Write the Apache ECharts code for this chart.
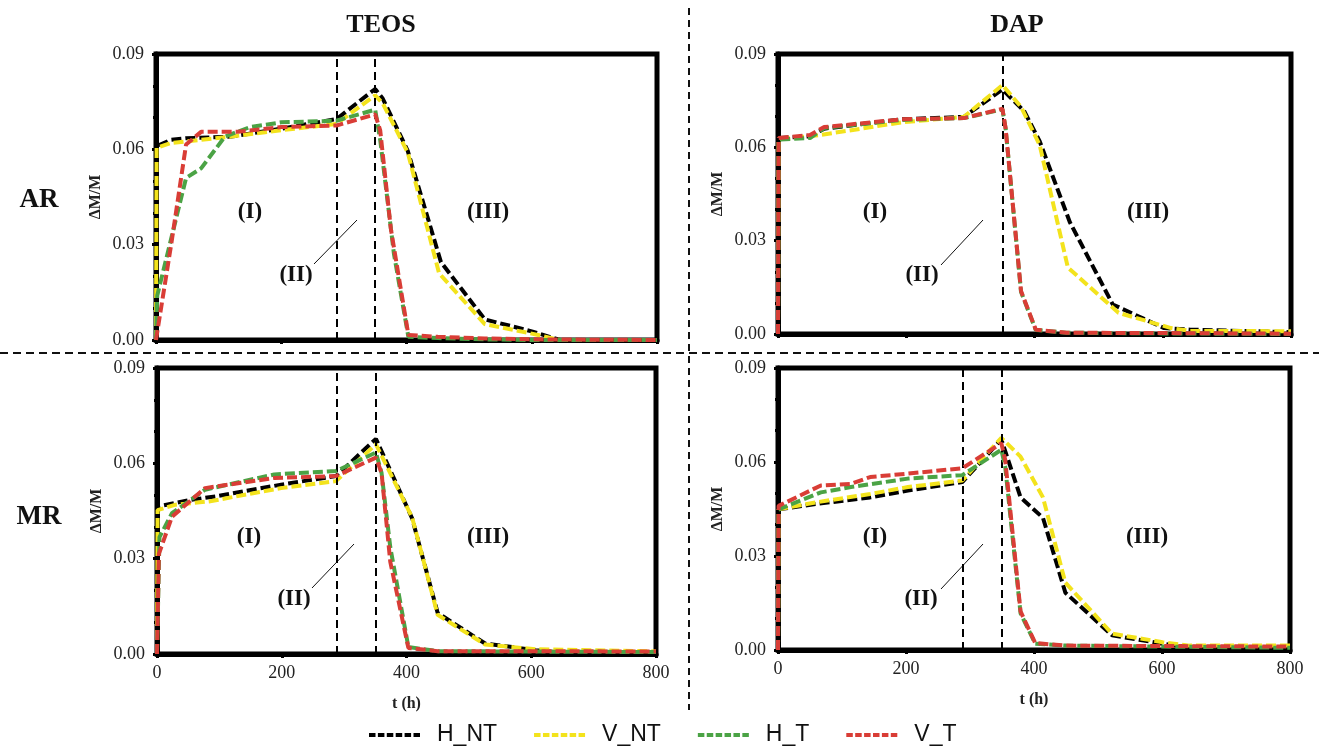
<!DOCTYPE html>
<html>
<head>
<meta charset="utf-8">
<script src="https://cdn.jsdelivr.net/npm/echarts@6/dist/echarts.min.js"></script>
<style>
html,body{margin:0;padding:0;background:#fff;}
#c{width:1319px;height:748px;}
</style>
</head>
<body>
<div id="c"></div>
<script>
// ---- data (t in h, ΔM/M) ----
const seriesNames = ['H_NT', 'V_NT', 'H_T', 'V_T'];
const colTitles = ['TEOS', 'DAP'];
const rowTitles = ['AR', 'MR'];
const xTicks = [0, 200, 400, 600, 800];
const yTicks = [0.00, 0.03, 0.06, 0.09];
const regionLabels = ['(I)', '(II)', '(III)'];

// TEOS - AR
const teosAR_H_NT = [[0,0],[1,0.061],[24,0.063],[48,0.0635],[120,0.064],[200,0.0665],[288,0.0695],[350,0.079],[362,0.076],[402,0.0595],[455,0.0245],[525,0.0065],[600,0.0027],[645,0],[800,0]];
const teosAR_V_NT = [[0,0],[1,0.0605],[24,0.062],[72,0.063],[120,0.064],[200,0.066],[288,0.068],[350,0.077],[362,0.0745],[402,0.059],[452,0.021],[525,0.005],[600,0.002],[645,0],[800,0]];
const teosAR_H_T  = [[0,0],[2,0.014],[48,0.051],[72,0.054],[110,0.064],[150,0.067],[200,0.0685],[288,0.069],[350,0.0725],[358,0.063],[380,0.027],[403,0.001],[450,0.0006],[525,0.0002],[600,0],[800,0]];
const teosAR_V_T  = [[0,0],[25,0.031],[48,0.0615],[72,0.0655],[130,0.0655],[200,0.067],[288,0.0675],[350,0.071],[358,0.066],[375,0.035],[403,0.0016],[450,0.001],[525,0.0005],[600,0.0002],[800,0]];
// DAP - AR
const dapAR_H_NT = [[0,0],[1,0.063],[50,0.0635],[72,0.066],[192,0.069],[290,0.0698],[350,0.0786],[384,0.0716],[408,0.062],[455,0.036],[522,0.0095],[602,0.0019],[643,0.0014],[800,0.0006]];
const dapAR_V_NT = [[0,0],[1,0.0625],[67,0.064],[192,0.068],[290,0.0698],[350,0.080],[379,0.073],[408,0.0608],[452,0.0214],[531,0.0068],[613,0.0019],[643,0.001],[800,0.0009]];
const dapAR_H_T  = [[0,0],[1,0.0625],[50,0.063],[72,0.0662],[192,0.0688],[290,0.0694],[350,0.0722],[355,0.066],[379,0.0135],[402,0.0013],[450,0.0004],[600,0.0002],[800,0]];
const dapAR_V_T  = [[0,0],[1,0.063],[50,0.064],[72,0.0665],[192,0.069],[290,0.0694],[350,0.0724],[355,0.066],[379,0.0138],[402,0.0014],[450,0.0004],[600,0.0003],[800,0.0001]];
// TEOS - MR
const teosMR_H_NT = [[0,0],[1,0.0464],[54,0.0485],[94,0.0496],[199,0.0533],[287,0.056],[351,0.0677],[409,0.0427],[450,0.0129],[526,0.0033],[607,0.0012],[637,0.0006],[800,0.0006]];
const teosMR_V_NT = [[0,0],[1,0.0453],[30,0.047],[83,0.048],[199,0.0522],[287,0.0544],[351,0.066],[409,0.043],[450,0.0123],[526,0.003],[607,0.0015],[800,0.0008]];
const teosMR_H_T  = [[0,0],[4,0.0368],[24,0.0443],[77,0.0517],[188,0.0565],[287,0.0576],[351,0.0634],[360,0.057],[374,0.0336],[403,0.0022],[450,0.0009],[800,0.0006]];
const teosMR_V_T  = [[0,0],[3,0.0315],[24,0.0432],[77,0.0522],[188,0.0554],[287,0.056],[351,0.0618],[360,0.057],[374,0.029],[403,0.0019],[450,0.0009],[800,0.0008]];
// DAP - MR
const dapMR_H_NT = [[0,0],[1,0.0449],[56,0.0465],[144,0.0487],[203,0.0509],[288,0.0536],[349,0.0672],[379,0.0487],[414,0.0422],[449,0.0183],[522,0.0047],[601,0.002],[643,0.0009],[800,0.0007]];
const dapMR_V_NT = [[0,0],[1,0.0449],[56,0.047],[144,0.0498],[203,0.052],[288,0.0541],[349,0.0677],[379,0.0617],[414,0.0487],[449,0.0215],[522,0.0052],[601,0.0025],[643,0.0014],[800,0.0014]];
const dapMR_H_T  = [[0,0],[1,0.0449],[67,0.0503],[114,0.052],[203,0.0547],[288,0.0558],[349,0.0639],[355,0.0585],[379,0.0117],[402,0.002],[450,0.0014],[800,0.0007]];
const dapMR_V_T  = [[0,0],[1,0.046],[67,0.0525],[114,0.053],[144,0.0552],[203,0.0563],[288,0.058],[349,0.066],[355,0.0607],[379,0.0123],[402,0.0022],[450,0.0014],[800,0.0011]];

// phase boundary times (h) per panel
const phaseTL = [288, 350];
const phaseTR = [350];
const phaseBL = [288, 350];
const phaseBR = [288, 350];

// ---- chart ----
const colors = ['#000000', '#f3e31c', '#4ba345', '#d93d36'];
const serif = "'Liberation Serif', 'Times New Roman', serif";

const panels = [
  { data: [teosAR_H_NT, teosAR_V_NT, teosAR_H_T, teosAR_V_T], phase: phaseTL, grid: {left:156, top:54, width:501, height:286}, xLabels:false },
  { data: [dapAR_H_NT, dapAR_V_NT, dapAR_H_T, dapAR_V_T],     phase: phaseTR, grid: {left:778, top:54, width:513, height:280}, xLabels:false },
  { data: [teosMR_H_NT, teosMR_V_NT, teosMR_H_T, teosMR_V_T], phase: phaseBL, grid: {left:157, top:368, width:499, height:286}, xLabels:true },
  { data: [dapMR_H_NT, dapMR_V_NT, dapMR_H_T, dapMR_V_T],     phase: phaseBR, grid: {left:778, top:368, width:512, height:282}, xLabels:true }
];

const grids = [], xAxes = [], yAxes = [], series = [];
panels.forEach((p, i) => {
  grids.push(Object.assign({ show:true, borderColor:'#000', borderWidth:5, backgroundColor:'transparent' }, p.grid));
  xAxes.push({
    type:'value', gridIndex:i, min:xTicks[0], max:xTicks[xTicks.length-1], interval:xTicks[1]-xTicks[0],
    axisLine:{ show:true, onZero:false, lineStyle:{ color:'#000', width:5 } },
    axisTick:{ show:true, inside:false, length:4, lineStyle:{ color:'#000', width:3 } },
    splitLine:{ show:false },
    axisLabel:{ show:p.xLabels, fontFamily:serif, fontSize:18, color:'#222', margin:10 },
    name: p.xLabels ? 't (h)' : '', nameLocation:'middle', nameGap:42,
    nameTextStyle:{ fontFamily:serif, fontSize:16, fontWeight:'bold', color:'#222' }
  });
  yAxes.push({
    type:'value', gridIndex:i, min:yTicks[0], max:yTicks[yTicks.length-1], interval:yTicks[1]-yTicks[0],
    axisLine:{ show:true, onZero:false, lineStyle:{ color:'#000', width:5 } },
    axisTick:{ show:true, inside:false, length:4, lineStyle:{ color:'#000', width:3 } },
    minorTick:{ show:true, splitNumber:3, length:3, lineStyle:{ color:'#000', width:3 } },
    splitLine:{ show:false },
    axisLabel:{ fontFamily:serif, fontSize:18, color:'#222', margin:12, formatter:v => v.toFixed(2) },
    name:'ΔM/M', nameLocation:'middle', nameGap:52, nameRotate:90,
    nameTextStyle:{ fontFamily:serif, fontSize:16, fontWeight:'bold', color:'#222' }
  });
  p.data.forEach((d, k) => {
    const s = {
      name: seriesNames[k], type:'line', xAxisIndex:i, yAxisIndex:i, data:d,
      symbol:'none', smooth:false, clip:true,
      lineStyle:{ color:colors[k], width:4, type:[10,4] },
      itemStyle:{ color:colors[k] },
      z: 3 + k
    };
    if (k === 0) {
      s.markLine = {
        silent:true, symbol:['none','none'], label:{ show:false },
        lineStyle:{ color:'#000', width:2, type:[8,5] },
        data: p.phase.map(t => ({ xAxis:t }))
      };
    }
    series.push(s);
  });
});

// annotation positions (pixels)
const annot = [
  { I:[250,212], II:[296,275], III:[488,212], ln:[314,264,357,220] },
  { I:[875,212], II:[922,275], III:[1148,212], ln:[941,265,983,220] },
  { I:[249,537], II:[294,599], III:[488,537], ln:[312,588,354,544] },
  { I:[875,537], II:[921,599], III:[1147,537], ln:[941,589,983,544] }
];
const graphic = [];
const bigText = (txt, x, y, size) => ({
  type:'text', x:x, y:y, silent:true,
  style:{ text:txt, fontFamily:serif, fontSize:size, fontWeight:'bold', fill:'#111', align:'center', verticalAlign:'middle' }
});
annot.forEach(a => {
  graphic.push(bigText(regionLabels[0], a.I[0], a.I[1], 23));
  graphic.push(bigText(regionLabels[1], a.II[0], a.II[1], 23));
  graphic.push(bigText(regionLabels[2], a.III[0], a.III[1], 23));
  graphic.push({ type:'line', silent:true, shape:{ x1:a.ln[0], y1:a.ln[1], x2:a.ln[2], y2:a.ln[3] }, style:{ stroke:'#111', lineWidth:1 } });
});
graphic.push(bigText(colTitles[0], 381, 25, 26));
graphic.push(bigText(colTitles[1], 1017, 25, 26));
graphic.push(bigText(rowTitles[0], 39, 200, 27));
graphic.push(bigText(rowTitles[1], 39, 517, 27));
// panel dividers
graphic.push({ type:'line', silent:true, shape:{ x1:689, y1:8, x2:689, y2:710 }, style:{ stroke:'#111', lineWidth:2, lineDash:[7,5] } });
graphic.push({ type:'line', silent:true, shape:{ x1:0, y1:353, x2:1319, y2:353 }, style:{ stroke:'#111', lineWidth:2, lineDash:[8,5] } });

// dashed legend icon (6 short dashes)
const dashIcon = 'path://M0,0h6.5v4h-6.5z M8.9,0h6.5v4h-6.5z M17.8,0h6.5v4h-6.5z M26.7,0h6.5v4h-6.5z M35.6,0h6.5v4h-6.5z M44.5,0h6.5v4h-6.5z';

const chart = echarts.init(document.getElementById('c'), null, { renderer:'canvas' });
chart.setOption({
  animation:false,
  backgroundColor:'#fff',
  grid: grids, xAxis: xAxes, yAxis: yAxes, series: series,
  legend: {
    data: seriesNames, left:364, top:714, orient:'horizontal',
    icon: dashIcon, itemWidth:51, itemHeight:4, itemGap:37,
    itemStyle:{ borderWidth:0 },
    textStyle:{ fontFamily:"'Liberation Sans', Arial, sans-serif", fontSize:23, lineHeight:32, color:'#111', padding:[0,0,0,12] },
    selectedMode:false
  },
  graphic: graphic
});
</script>
</body>
</html>
